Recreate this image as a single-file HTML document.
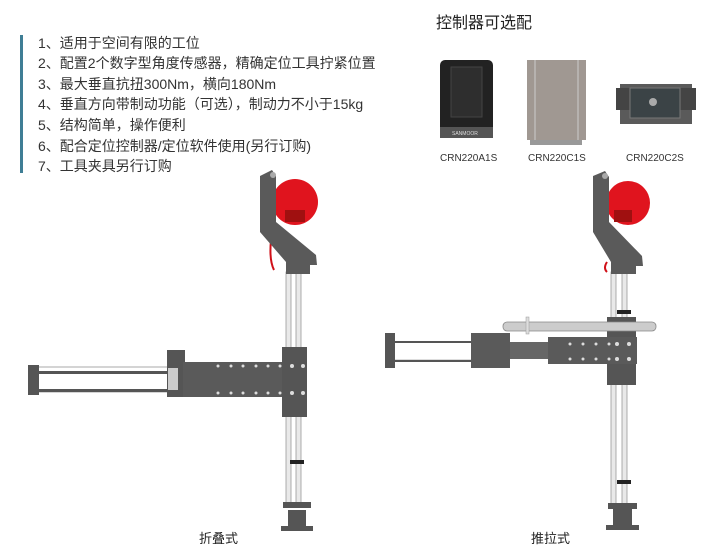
<!DOCTYPE html>
<html><head><meta charset="utf-8"><style>
body{margin:0;background:#fff;}
.t{font-family:"Liberation Sans","Noto Sans CJK SC",sans-serif;}
</style></head><body>
<svg width="727" height="555" viewBox="0 0 727 555" xmlns="http://www.w3.org/2000/svg" class="t">
<rect x="20" y="35" width="3" height="138" fill="#3f7e95"/>
<g font-size="14" fill="#333">
<text x="38" y="48">1、适用于空间有限的工位</text>
<text x="38" y="68">2、配置2个数字型角度传感器，精确定位工具拧紧位置</text>
<text x="38" y="89">3、最大垂直抗扭300Nm，横向180Nm</text>
<text x="38" y="109">4、垂直方向带制动功能（可选），制动力不小于15kg</text>
<text x="38" y="130">5、结构简单，操作便利</text>
<text x="38" y="151">6、配合定位控制器/定位软件使用(另行订购)</text>
<text x="38" y="171">7、工具夹具另行订购</text>
</g>
<text x="436" y="28" font-size="16" fill="#222">控制器可选配</text>
<rect x="440" y="60" width="53" height="78" rx="5" fill="#222"/>
<rect x="451" y="67" width="31" height="50" fill="#2e2e2e" stroke="#444"/>
<rect x="440" y="127" width="53" height="11" fill="#555"/>
<text x="452" y="135" font-size="5" fill="#ddd">SANMOOR</text>
<rect x="527" y="60" width="59" height="80" fill="#a09892"/>
<line x1="535" y1="60" x2="535" y2="140" stroke="#ccc"/><line x1="578" y1="60" x2="578" y2="140" stroke="#ccc"/>
<rect x="530" y="140" width="52" height="5" fill="#999"/>
<rect x="620" y="84" width="72" height="40" fill="#5a5a5a"/>
<rect x="616" y="88" width="80" height="22" fill="#444"/>
<rect x="630" y="88" width="50" height="30" fill="#3b4346" stroke="#777"/>
<circle cx="653" cy="102" r="4" fill="#aaa"/>
<g font-size="10" fill="#333">
<text x="440" y="161">CRN220A1S</text>
<text x="528" y="161">CRN220C1S</text>
<text x="626" y="161">CRN220C2S</text>
</g>
<rect x="286" y="272" width="5" height="232" fill="#e9e9e9" stroke="#999" stroke-width="0.8"/>
<rect x="296" y="272" width="5" height="232" fill="#e9e9e9" stroke="#999" stroke-width="0.8"/>
<circle cx="295" cy="202" r="23" fill="#e0141e"/>
<rect x="285" y="210" width="20" height="12" fill="#a01010"/>
<path d="M271 240 q-2 20 3 30" stroke="#d01018" stroke-width="2" fill="none"/>
<path d="M260 176 L272 170 L276 176 L276 222 L316 255 L317 265 L310 265 L310 274 L286 274 L286 262 L260 232 Z" fill="#5a5a5a"/>
<circle cx="273" cy="175" r="3" fill="#aaa"/>
<rect x="290" y="460" width="14" height="4" fill="#222"/>
<rect x="283" y="502" width="28" height="6" fill="#555"/>
<rect x="288" y="510" width="18" height="16" fill="#555"/>
<rect x="281" y="526" width="32" height="5" fill="#555"/>
<rect x="36" y="367" width="132" height="25" fill="#fff" stroke="#aaa"/>
<rect x="36" y="371" width="132" height="3" fill="#555"/>
<rect x="36" y="389" width="132" height="3" fill="#555"/>
<rect x="28" y="365" width="11" height="30" fill="#555"/>
<rect x="167" y="350" width="18" height="47" fill="#555"/>
<rect x="168" y="368" width="10" height="22" fill="#ccc"/>
<rect x="183" y="362" width="124" height="35" fill="#5a5a5a"/>
<rect x="282" y="347" width="25" height="70" fill="#555"/>
<g fill="#ddd">
<circle cx="218" cy="366" r="1.5"/><circle cx="231" cy="366" r="1.5"/><circle cx="243" cy="366" r="1.5"/><circle cx="256" cy="366" r="1.5"/><circle cx="268" cy="366" r="1.5"/><circle cx="280" cy="366" r="1.5"/>
<circle cx="218" cy="393" r="1.5"/><circle cx="231" cy="393" r="1.5"/><circle cx="243" cy="393" r="1.5"/><circle cx="256" cy="393" r="1.5"/><circle cx="268" cy="393" r="1.5"/><circle cx="280" cy="393" r="1.5"/>
<circle cx="292" cy="366" r="2"/><circle cx="303" cy="366" r="2"/><circle cx="292" cy="393" r="2"/><circle cx="303" cy="393" r="2"/>
</g>
<text x="199" y="543" font-size="13" fill="#222">折叠式</text>
<rect x="611" y="272" width="5" height="234" fill="#e9e9e9" stroke="#999" stroke-width="0.8"/>
<rect x="622" y="272" width="5" height="234" fill="#e9e9e9" stroke="#999" stroke-width="0.8"/>
<circle cx="628" cy="203" r="22" fill="#e0141e"/>
<rect x="614" y="210" width="18" height="12" fill="#a01010"/>
<path d="M593 176 L605 171 L609 177 L609 222 L642 256 L643 266 L636 266 L636 274 L611 274 L611 262 L593 232 Z" fill="#5a5a5a"/>
<circle cx="605" cy="176" r="3" fill="#aaa"/>
<path d="M607 262 q-4 6 0 10" stroke="#d01018" stroke-width="2" fill="none"/>
<rect x="617" y="310" width="14" height="4" fill="#222"/>
<rect x="617" y="480" width="14" height="4" fill="#222"/>
<rect x="608" y="503" width="29" height="6" fill="#555"/>
<rect x="613" y="509" width="19" height="16" fill="#555"/>
<rect x="606" y="525" width="33" height="5" fill="#555"/>
<rect x="607" y="317" width="29" height="68" fill="#555"/>
<rect x="392" y="342" width="80" height="18" fill="#fff" stroke="#bbb"/>
<rect x="392" y="341" width="80" height="2" fill="#555"/>
<rect x="392" y="360" width="80" height="2" fill="#555"/>
<rect x="385" y="333" width="10" height="35" fill="#555"/>
<rect x="471" y="333" width="39" height="35" fill="#5a5a5a"/>
<rect x="510" y="342" width="38" height="17" fill="#666"/>
<rect x="548" y="337" width="89" height="27" fill="#5a5a5a"/>
<rect x="503" y="322" width="153" height="9" rx="4" fill="#ccc" stroke="#888" stroke-width="0.8"/>
<rect x="526" y="317" width="3" height="17" fill="#ddd" stroke="#999" stroke-width="0.5"/>
<g fill="#ddd">
<circle cx="570" cy="344" r="1.5"/><circle cx="583" cy="344" r="1.5"/><circle cx="596" cy="344" r="1.5"/><circle cx="609" cy="344" r="1.5"/>
<circle cx="570" cy="359" r="1.5"/><circle cx="583" cy="359" r="1.5"/><circle cx="596" cy="359" r="1.5"/><circle cx="609" cy="359" r="1.5"/>
<circle cx="617" cy="344" r="2"/><circle cx="629" cy="344" r="2"/><circle cx="617" cy="359" r="2"/><circle cx="629" cy="359" r="2"/>
</g>
<text x="531" y="543" font-size="13" fill="#222">推拉式</text>
</svg>
</body></html>
